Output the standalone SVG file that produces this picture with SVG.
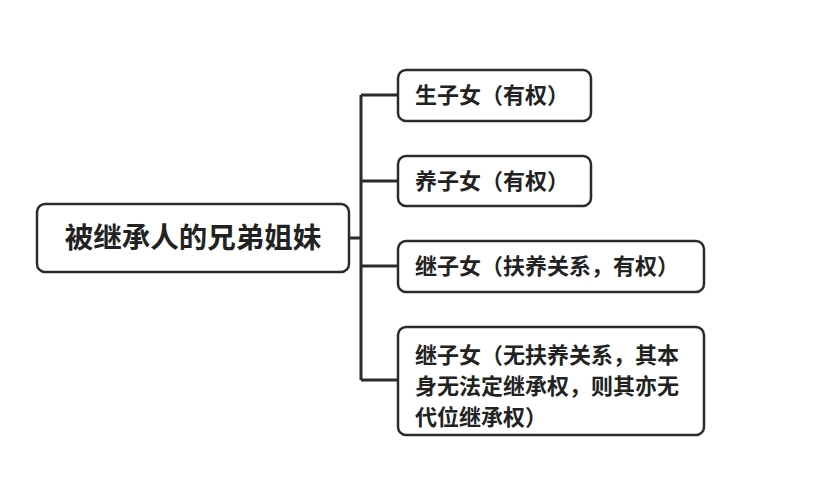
<svg xmlns="http://www.w3.org/2000/svg" width="825" height="498" viewBox="0 0 825 498">
<style>
.box{fill:#fff;stroke:#2b2b2b;stroke-width:2.5}
.t{font-family:"Noto Sans CJK SC","Noto Sans",sans-serif;font-weight:bold;fill:#222}
.c{fill:none;stroke:#2b2b2b;stroke-width:3}
</style>
<rect width="825" height="498" fill="#fff"/>
<g id="connectors">
<path class="c" d="M349 238H361M361 95V380M361 95H398M361 181H398M361 266H398M361 380H398"/>
</g>
<g id="root">
<rect class="box" x="37" y="204" width="312" height="68" rx="8"/>
<text class="t" x="193" y="248" font-size="28.5" text-anchor="middle">被继承人的兄弟姐妹</text>
</g>
<g id="n1">
<rect class="box" x="398" y="70" width="193" height="51" rx="8"/>
<text class="t" x="415" y="103" font-size="22">生子女（有权）</text>
</g>
<g id="n2">
<rect class="box" x="398" y="156" width="193" height="50" rx="8"/>
<text class="t" x="415" y="189" font-size="22">养子女（有权）</text>
</g>
<g id="n3">
<rect class="box" x="398" y="241" width="306" height="51" rx="8"/>
<text class="t" x="415" y="274" font-size="22">继子女（扶养关系，有权）</text>
</g>
<g id="n4">
<rect class="box" x="398" y="327" width="306" height="108" rx="8"/>
<text class="t" font-size="22"><tspan x="415" y="363">继子女（无扶养关系，其本</tspan><tspan x="415" y="394">身无法定继承权，则其亦无</tspan><tspan x="415" y="425">代位继承权）</tspan></text>
</g>
</svg>
